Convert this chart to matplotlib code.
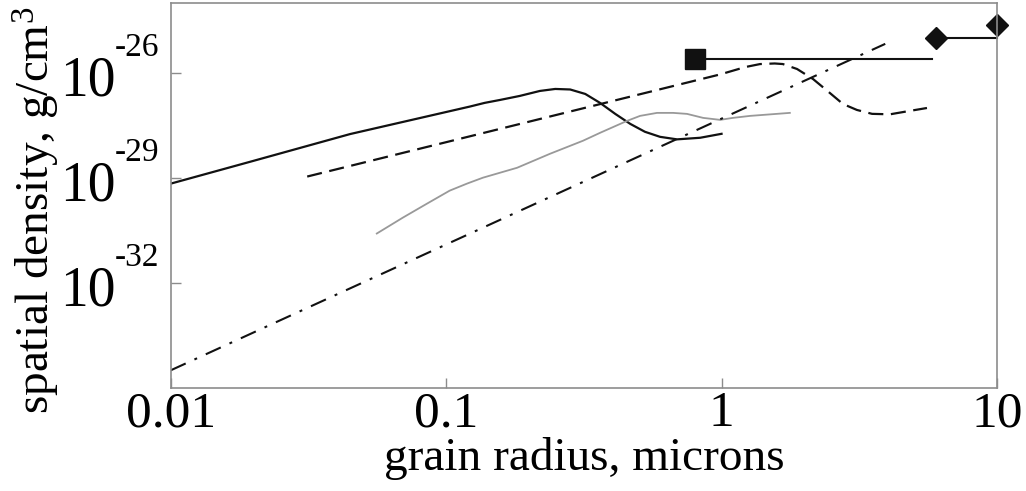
import matplotlib.pyplot as plt
import numpy as np

plt.rcParams['font.family'] = ['Liberation Serif', 'DejaVu Serif']
plt.rcParams['mathtext.fontset'] = 'custom'
plt.rcParams['mathtext.rm'] = 'Liberation Serif'

# grain radius in microns, spatial density in g/cm^3
solid_r = [0.01, 0.0194, 0.0448, 0.122, 0.138, 0.157, 0.185, 0.219, 0.249,
           0.282, 0.320, 0.362, 0.411, 0.466, 0.527, 0.598, 0.689, 0.836,
           1.0]
solid_rho = [6.9e-30, 2.9e-29, 1.8e-28, 1.1e-27, 1.4e-27, 1.7e-27, 2.21e-27,
             3.07e-27, 3.50e-27, 3.38e-27, 2.52e-27, 1.40e-27, 6.8e-28,
             3.52e-28, 2.09e-28, 1.50e-28, 1.27e-28, 1.41e-28, 1.83e-28]

dashed_r = [0.0313, 0.988, 1.22, 1.38, 1.56, 1.67, 1.88, 2.15, 2.42, 2.76,
            3.10, 3.52, 4.09, 4.84, 5.57]
dashed_rho = [1.1e-29, 9.1e-27, 1.48e-26, 1.80e-26, 1.87e-26, 1.80e-26,
              1.30e-26, 6.7e-27, 3.1e-27, 1.3e-27, 8.8e-28, 6.8e-28, 6.6e-28,
              8.3e-28, 1.0e-27]

gray_r = [0.056, 0.0697, 0.0852, 0.103, 0.119, 0.136, 0.181, 0.238, 0.314,
          0.362, 0.454, 0.506, 0.583, 0.667, 0.749, 0.857, 0.988, 1.10, 1.27,
          1.77]
gray_rho = [2.59e-31, 7.4e-31, 1.85e-30, 4.35e-30, 6.9e-30, 1.02e-29,
            1.96e-29, 4.9e-29, 1.16e-28, 1.95e-28, 4.29e-28, 5.95e-28,
            7.25e-28, 7.25e-28, 6.79e-28, 5.22e-28, 4.58e-28, 5.22e-28,
            5.95e-28, 7.25e-28]

dashdot_r = [0.01, 3.93]
dashdot_rho = [3.2e-35, 6.8e-26]

# measured points with their size ranges
square_r = 0.80
square_range = [0.80, 5.8]
square_rho = 2.5e-26

diamond_r = [6.0, 10.0]
diamond_range = [6.0, 10.0]
diamond_rho = [1.0e-25, 2.3e-25]

xticks = [0.01, 0.1, 1, 10]
xtick_labels = ['0.01', '0.1', '1', '10']
ytick_exps = [-32, -29, -26]

fig = plt.figure(figsize=(10.26, 4.91), dpi=100)
ax = fig.add_axes([0.1664, 0.2098, 0.8053, 0.7841])
ax.set_xscale('log')
ax.set_yscale('log')
ax.set_xlim(0.01, 10)
ax.set_ylim(1e-35, 1e-24)

ax.plot(solid_r, solid_rho, color='#111111', lw=1.6)
ax.plot(dashed_r, dashed_rho, color='#111111', lw=1.6, dashes=(6.8, 3.4))
ax.plot(gray_r, gray_rho, color='#999999', lw=1.3)
ax.plot(dashdot_r, dashdot_rho, color='#111111', lw=1.5,
        dashes=(7.9, 4.6, 1.4, 4.6))

ax.plot(square_range, [square_rho, square_rho], color='#111111', lw=1.5)
ax.plot([square_r], [square_rho], marker='s', ms=14, color='#111111')
ax.plot(diamond_range, [diamond_rho[0], diamond_rho[0]], color='#111111',
        lw=1.5, clip_on=False)
ax.plot(diamond_r, diamond_rho, ls='none', marker='D', ms=11,
        color='#111111', clip_on=False)

for s in ax.spines.values():
    s.set_color('#8c8c8c')
    s.set_linewidth(1.2)

ax.minorticks_off()
ax.set_xticks(xticks)
ax.set_xticklabels(xtick_labels)
ax.set_yticks([10.0 ** e for e in ytick_exps])
ax.set_yticklabels([])
ax.tick_params(direction='in', length=7.5, width=1.0, color='#8c8c8c',
               labelsize=37, pad=2)

# y tick labels as "10" with a raised exponent
tr = ax.get_yaxis_transform()
for e in ytick_exps:
    ax.annotate('10', xy=(0, 10.0 ** e), xycoords=tr, xytext=(-40, -16.5),
                textcoords='offset points', ha='right', va='baseline',
                fontsize=40)
    ax.annotate(str(e), xy=(0, 10.0 ** e), xycoords=tr, xytext=(-40, 12.2),
                textcoords='offset points', ha='left', va='baseline',
                fontsize=24)

ax.set_xlabel('grain radius, microns', fontsize=34, va='baseline')
ax.xaxis.set_label_coords(0.5, -0.213)
ax.set_ylabel(r'spatial density, g/cm$\mathregular{^3}$', fontsize=34,
              va='baseline', ha='center', rotation_mode='anchor')
ax.yaxis.set_label_coords(-0.146, 0.462)

fig.savefig('out.png', dpi=100)
